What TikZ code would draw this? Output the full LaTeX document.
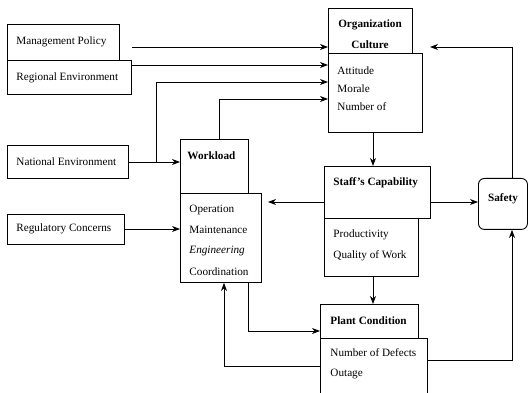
\documentclass[tikz,border=0pt]{standalone}
\usepackage{fontspec}
\setmainfont{Liberation Serif}
\usetikzlibrary{arrows.meta}
\begin{document}
\begin{tikzpicture}[x=1pt,y=-1pt,
  line width=0.9pt,
  box/.style={draw, rectangle, inner sep=0pt, anchor=north west},
  txt/.style={inner sep=0pt, anchor=west, font=\fontsize{11.2}{13}\selectfont},
  hd/.style={txt, font=\fontsize{11.2}{13}\selectfont\bfseries},
  arr/.style={-{Stealth[length=8pt,width=6pt,inset=2.5pt]}}
]
\useasboundingbox (0,0) rectangle (528,393);

% outer drivers
\node[box, minimum width=112, minimum height=36] (mp) at (7,24) {};
\node[txt] (mpt) at (16,42) {Management Policy};
\node[box, minimum width=124, minimum height=34] (re) at (7,60) {};
\node[txt] (ret) at (16,78) {Regional Environment};
\node[box, minimum width=121, minimum height=33] (ne) at (7,145) {};
\node[txt] (net) at (16,162) {National Environment};
\node[box, minimum width=117, minimum height=30] (rc) at (7,214) {};
\node[txt] (rct) at (16,229) {Regulatory Concerns};

% organization culture
\node[box, minimum width=84, minimum height=45] (oc) at (328,8) {};
\node[hd, anchor=center] (oct1) at (370,25) {Organization};
\node[hd, anchor=center] (oct2) at (370,45) {Culture};
\node[box, minimum width=94, minimum height=79] (att) at (328,53) {};
\node[txt] (att1) at (337,71) {Attitude};
\node[txt] (att2) at (337,89) {Morale};
\node[txt] (att3) at (337,107) {Number of};

% workload
\node[box, minimum width=68, minimum height=54] (wl) at (180,139) {};
\node[hd] (wlt) at (187,156) {Workload};
\node[box, minimum width=81, minimum height=89] (op) at (180,193) {};
\node[txt] (op1) at (189,210) {Operation};
\node[txt] (op2) at (189,230) {Maintenance};
\node[txt] (op3) at (189,251) {\itshape Engineering};
\node[txt] (op4) at (189,272) {Coordination};

% staff's capability
\node[box, minimum width=106, minimum height=52] (sc) at (324,166) {};
\node[hd] (sct) at (333,183) {Staff's Capability};
\node[box, minimum width=94, minimum height=58] (pr) at (324,218) {};
\node[txt] (pr1) at (333,235) {Productivity};
\node[txt] (pr2) at (333,256) {Quality of Work};

% safety
\node[box, rounded corners=6pt, minimum width=49, minimum height=51] (sf) at (478,178) {};
\node[hd, anchor=center] (sft) at (503,199) {Safety};

% plant condition
\node[box, minimum width=98, minimum height=34] (pc) at (320,304) {};
\node[hd] (pct) at (330,321) {Plant Condition};
\node[inner sep=0pt, anchor=north west, minimum width=107, minimum height=60] (nd) at (320,338) {};
\draw (nd.south west) -- (nd.north west) -- (nd.north east) -- (nd.south east);
\node[txt] (nd1) at (330,353) {Number of Defects};
\node[txt] (nd2) at (330,374) {Outage};

% free arrow ends
\coordinate (mpout) at (132,47);
\coordinate (ocin) at (430,47);
\coordinate (scl) at (268,202);

% connectors into organization culture
\draw[arr] (mpout) -- (mpout -| oc.west);
\draw[arr] (re.east |- 0,65) -- (att.west |- 0,65);
\draw[arr] (ne.east |- 0,162) -- (wl.west |- 0,162);
\draw[arr] (156,162) |- (att.west |- 0,82);
\draw[arr] (wl.north -| 219,0) |- (att.west |- 0,99);
\draw[arr] (rc.east |- 0,229) -- (op.west |- 0,229);

% central chain
\draw[arr] (att.south -| 373,0) -- (sc.north -| 373,0);
\draw[arr] (sc.west |- scl) -- (scl);
\draw[arr] (sc.east |- 0,202) -- (sf.west |- 0,202);
\draw[arr] (sf.north -| 512,0) |- (ocin);
\draw[arr] (pr.south -| 373,0) -- (pc.north -| 373,0);

% feedback loops
\draw[arr] (op.south -| 248,0) |- (pc.west |- 0,331);
\draw[arr] (nd.west |- 0,366) -| (op.south -| 224,0);
\draw[arr] (nd.east |- 0,360) -| (sf.south -| 512,0);
\end{tikzpicture}
\end{document}
